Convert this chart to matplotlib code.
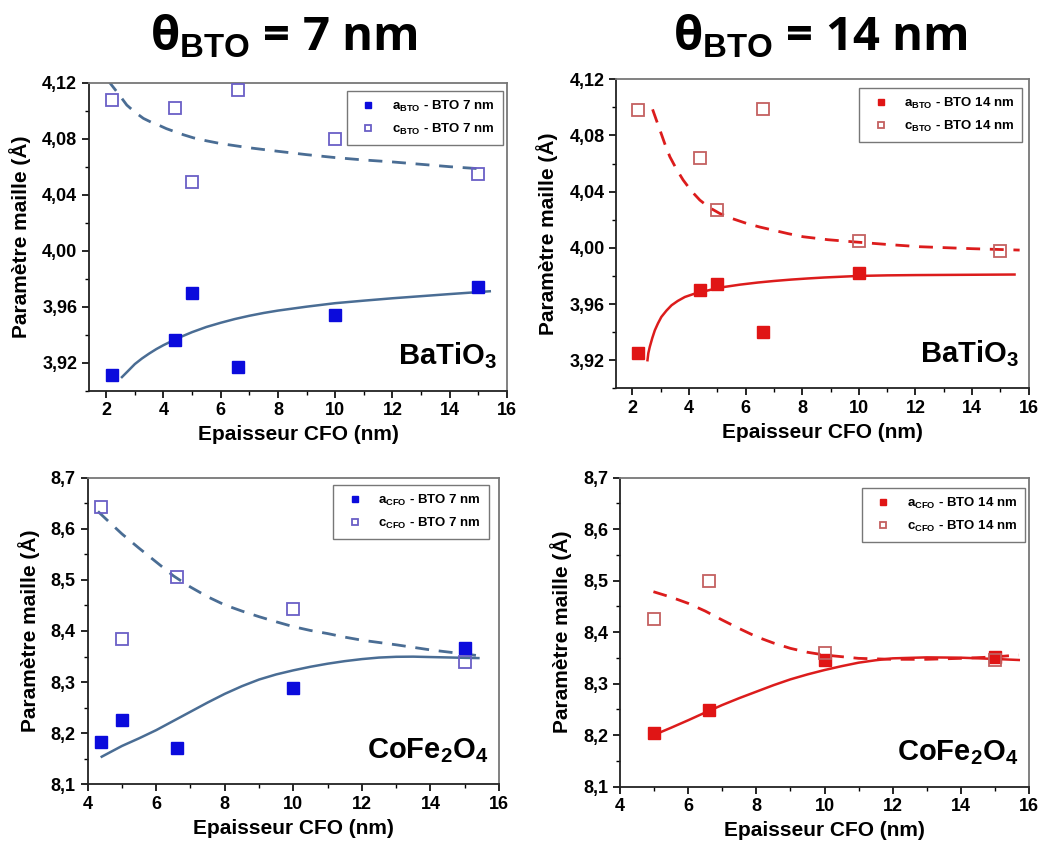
import numpy as np
import matplotlib
matplotlib.use("Agg")
import matplotlib.pyplot as plt
from matplotlib.ticker import MultipleLocator

plt.rcParams["font.family"] = ["Liberation Sans", "DejaVu Sans"]
plt.rcParams["font.weight"] = "bold"
plt.rcParams["mathtext.fontset"] = "custom"
plt.rcParams["mathtext.rm"] = "Liberation Sans:bold"
plt.rcParams["mathtext.it"] = "Liberation Sans:bold"
plt.rcParams["mathtext.bf"] = "Liberation Sans:bold"

# BaTiO3, BTO 7 nm
x_bto7 = [2.2, 4.4, 5.0, 6.6, 10.0, 15.0]
a_bto7 = [3.911, 3.936, 3.970, 3.917, 3.954, 3.974]
c_bto7 = [4.108, 4.102, 4.049, 4.115, 4.080, 4.055]
fit_a_bto7_x = [2.55, 2.75, 3.0, 3.25, 3.5, 3.75, 4.0, 4.5, 5.0, 5.5, 6.0, 6.5, 7.0,
                7.5, 8.0, 9.0, 10.0, 11.0, 12.0, 13.0, 14.0, 15.4]
fit_a_bto7_y = [3.9097, 3.9138, 3.919, 3.923, 3.9265, 3.9297, 3.9325, 3.9375, 3.9418,
                3.9455, 3.9485, 3.9512, 3.9535, 3.9555, 3.9572, 3.960, 3.9625, 3.9643,
                3.966, 3.9675, 3.969, 3.971]
fit_c_bto7_x = [2.05, 2.2, 2.43, 2.72, 3.0, 3.3, 3.6, 3.83, 4.1, 4.41, 4.7, 5.05, 5.5,
                6.0, 7.0, 8.0, 9.0, 10.0, 11.0, 12.0, 13.0, 14.0, 15.0]
fit_c_bto7_y = [4.122, 4.118, 4.112, 4.104, 4.099, 4.0945, 4.0915, 4.0897, 4.0872,
                4.0849, 4.0828, 4.0806, 4.0785, 4.0765, 4.0735, 4.071, 4.0686, 4.0665,
                4.0648, 4.0634, 4.0617, 4.060, 4.0586]

# BaTiO3, BTO 14 nm
x_bto14_a = [2.2, 4.4, 5.0, 6.6, 10.0]
a_bto14 = [3.925, 3.970, 3.974, 3.940, 3.982]
x_bto14_c = [2.2, 4.4, 5.0, 6.6, 10.0, 15.0]
c_bto14 = [4.098, 4.064, 4.027, 4.099, 4.005, 3.998]
fit_a_bto14_x = [2.53, 2.56, 2.61, 2.7, 2.79, 2.9, 3.02, 3.2, 3.38, 3.6, 3.85, 4.14,
                 4.44, 4.8, 5.26, 5.8, 6.43, 7.0, 7.61, 8.2, 8.79, 10.0, 11.0, 12.0, 15.5]
fit_a_bto14_y = [3.920, 3.925, 3.9294, 3.9358, 3.9413, 3.9462, 3.9508, 3.9553, 3.9591,
                 3.9622, 3.965, 3.967, 3.9686, 3.9703, 3.9722, 3.9738, 3.9753, 3.9764,
                 3.9774, 3.9782, 3.9789, 3.980, 3.9804, 3.9806, 3.981]
fit_c_bto14_x = [2.71, 2.84, 2.97, 3.14, 3.32, 3.55, 3.79, 4.08, 4.38, 4.7, 5.08, 5.5,
                 6.03, 6.5, 6.97, 7.5, 8.03, 8.9, 9.79, 11.0, 12.15, 14.0, 15.68]
fit_c_bto14_y = [4.0986, 4.0912, 4.0839, 4.0742, 4.0649, 4.0562, 4.0483, 4.0405, 4.034,
                 4.0289, 4.0245, 4.021, 4.0174, 4.0148, 4.0126, 4.0101, 4.0079, 4.0058,
                 4.0043, 4.0024, 4.0008, 3.9994, 3.9984]

# CoFe2O4, BTO 7 nm
x_cfo7 = [4.4, 5.0, 6.6, 10.0, 15.0]
a_cfo7 = [8.182, 8.226, 8.172, 8.288, 8.366]
c_cfo7 = [8.643, 8.384, 8.506, 8.444, 8.339]
fit_a_cfo7_x = [4.41, 5.0, 5.5, 6.0, 6.5, 7.0, 7.5, 8.0, 8.5, 9.0, 9.5, 10.0, 10.5,
                11.0, 11.5, 12.0, 12.5, 13.0, 13.5, 14.0, 15.0, 15.4]
fit_a_cfo7_y = [8.154, 8.175, 8.190, 8.206, 8.224, 8.242, 8.260, 8.277, 8.292, 8.305,
                8.315, 8.323, 8.330, 8.336, 8.341, 8.345, 8.348, 8.3495, 8.3498, 8.349,
                8.3475, 8.347]
fit_c_cfo7_x = [4.3, 4.6, 5.0, 5.5, 6.0, 6.5, 7.0, 7.5, 8.0, 8.5, 9.0, 9.5, 10.0, 10.5,
                11.0, 11.5, 12.0, 13.0, 14.0, 15.0, 15.6]
fit_c_cfo7_y = [8.634, 8.615, 8.590, 8.562, 8.535, 8.508, 8.486, 8.467, 8.451, 8.439,
                8.428, 8.418, 8.4085, 8.401, 8.395, 8.388, 8.382, 8.373, 8.363, 8.355,
                8.350]

# CoFe2O4, BTO 14 nm
x_cfo14 = [5.0, 6.6, 10.0, 15.0]
a_cfo14 = [8.205, 8.249, 8.346, 8.352]
c_cfo14 = [8.425, 8.499, 8.359, 8.346]
fit_a_cfo14_x = [4.98, 5.5, 6.0, 6.5, 7.0, 7.5, 8.0, 8.5, 9.0, 9.5, 10.0, 10.5, 11.0,
                 11.5, 12.0, 13.0, 14.0, 15.0, 15.7]
fit_a_cfo14_y = [8.200, 8.2145, 8.229, 8.244, 8.2586, 8.272, 8.2845, 8.297, 8.3084,
                 8.318, 8.3265, 8.334, 8.3408, 8.3455, 8.3492, 8.3511, 8.3505, 8.348,
                 8.346]
fit_c_cfo14_x = [4.98, 5.5, 6.0, 6.5, 7.0, 7.5, 8.0, 8.5, 9.0, 9.5, 10.0, 11.0, 12.0,
                 13.0, 14.0, 15.0, 15.7]
fit_c_cfo14_y = [8.4786, 8.468, 8.456, 8.441, 8.4236, 8.407, 8.3913, 8.379, 8.3686,
                 8.361, 8.3557, 8.3492, 8.3473, 8.3473, 8.3492, 8.352, 8.3557]

BLUE = "#0b0bdc"
BLUE_OPEN = "#6a5fc6"
BLUE_FIT = "#4a6d94"
RED = "#e01515"
RED_OPEN = "#c46060"
RED_FIT = "#dc1c1c"


def setup_axes(ax, xlim, ylim, xmaj, ymaj, yfmt):
    ax.set_xlim(*xlim)
    ax.set_ylim(*ylim)
    ax.xaxis.set_major_locator(MultipleLocator(xmaj))
    ax.xaxis.set_minor_locator(MultipleLocator(xmaj / 2))
    ax.yaxis.set_major_locator(MultipleLocator(ymaj))
    ax.yaxis.set_minor_locator(MultipleLocator(ymaj / 2))
    ax.xaxis.set_major_formatter(plt.FuncFormatter(lambda v, p: "%d" % round(v)))
    # comma as decimal separator
    ax.yaxis.set_major_formatter(plt.FuncFormatter(lambda v, p: (yfmt % v).replace(".", ",")))
    ax.tick_params(which="major", direction="out", length=5, width=1.2, labelsize=13)
    ax.tick_params(which="minor", direction="out", length=3, width=1.0)
    for lab in ax.get_xticklabels() + ax.get_yticklabels():
        lab.set_fontweight("bold")
    for s in ["left", "bottom"]:
        ax.spines[s].set_linewidth(1.3)
        ax.spines[s].set_color("#222222")
    for s in ["right", "top"]:
        ax.spines[s].set_linewidth(1.3)
        ax.spines[s].set_color("#777777")
    ax.set_xlabel("Epaisseur CFO (nm)", fontsize=15, fontweight="bold", labelpad=4)
    ax.set_ylabel("Paramètre maille (Å)", fontsize=15, fontweight="bold", labelpad=8)


def draw(ax, xa, ya, xc, yc, fa, fc, col, col_open, col_fit, lab_a, lab_c, anchor):
    ax.plot(fa[0], fa[1], color=col_fit, lw=1.8, zorder=2)
    ax.plot(fc[0], fc[1], color=col_fit, lw=2.0, ls=(0, (5, 3.5)), zorder=2)
    ax.plot(xa, ya, ls="none", marker="s", ms=8.5, color=col, mec=col,
            label=lab_a, zorder=3)
    ax.plot(xc, yc, ls="none", marker="s", ms=8.5, mfc="none", mec=col_open,
            mew=1.3, label=lab_c, zorder=3)
    leg = ax.legend(loc="upper right", markerscale=0.5, fontsize=9.5,
                    frameon=True, fancybox=False, borderpad=0.6,
                    handletextpad=0.8, labelspacing=0.6, borderaxespad=0,
                    bbox_to_anchor=anchor)
    leg.get_frame().set_edgecolor("#555555")
    leg.get_frame().set_linewidth(1.0)
    for t in leg.get_texts():
        t.set_fontweight("bold")


fig = plt.figure(figsize=(10.5, 8.5), dpi=100)

ax1 = fig.add_axes([0.0848, 0.5404, 0.398, 0.3623])
ax2 = fig.add_axes([0.587, 0.5432, 0.3927, 0.3635])
ax3 = fig.add_axes([0.0835, 0.0773, 0.3917, 0.3607])
ax4 = fig.add_axes([0.5905, 0.0745, 0.3895, 0.3635])

setup_axes(ax1, (1.4, 16), (3.90, 4.12), 2, 0.04, "%.2f")
setup_axes(ax2, (1.43, 16), (3.90, 4.12), 2, 0.04, "%.2f")
setup_axes(ax3, (4, 16), (8.1, 8.7), 2, 0.1, "%.1f")
setup_axes(ax4, (4, 16), (8.1, 8.7), 2, 0.1, "%.1f")

draw(ax1, x_bto7, a_bto7, x_bto7, c_bto7,
     (fit_a_bto7_x, fit_a_bto7_y), (fit_c_bto7_x, fit_c_bto7_y),
     BLUE, BLUE_OPEN, BLUE_FIT,
     r"a$_{BTO}$ - BTO 7 nm", r"c$_{BTO}$ - BTO 7 nm", (0.99, 0.974))
draw(ax2, x_bto14_a, a_bto14, x_bto14_c, c_bto14,
     (fit_a_bto14_x, fit_a_bto14_y), (fit_c_bto14_x, fit_c_bto14_y),
     RED, RED_OPEN, RED_FIT,
     r"a$_{BTO}$ - BTO 14 nm", r"c$_{BTO}$ - BTO 14 nm", (0.985, 0.972))
draw(ax3, x_cfo7, a_cfo7, x_cfo7, c_cfo7,
     (fit_a_cfo7_x, fit_a_cfo7_y), (fit_c_cfo7_x, fit_c_cfo7_y),
     BLUE, BLUE_OPEN, BLUE_FIT,
     r"a$_{CFO}$ - BTO 7 nm", r"c$_{CFO}$ - BTO 7 nm", (0.976, 0.976))
draw(ax4, x_cfo14, a_cfo14, x_cfo14, c_cfo14,
     (fit_a_cfo14_x, fit_a_cfo14_y), (fit_c_cfo14_x, fit_c_cfo14_y),
     RED, RED_OPEN, RED_FIT,
     r"a$_{CFO}$ - BTO 14 nm", r"c$_{CFO}$ - BTO 14 nm", (0.99, 0.968))

for ax in [ax1, ax2]:
    ax.text(0.975, 0.085, r"BaTiO$_3$", transform=ax.transAxes, ha="right",
            va="baseline", fontsize=21, fontweight="bold")
for ax in [ax3, ax4]:
    ax.text(0.975, 0.085, r"CoFe$_2$O$_4$", transform=ax.transAxes, ha="right",
            va="baseline", fontsize=21, fontweight="bold")

fig.text(0.27, 0.956, r"θ$_{BTO}$ = 7 nm", ha="center", va="center",
         fontsize=34, fontweight="bold", family=["Open Sans", "DejaVu Sans"])
fig.text(0.781, 0.956, r"θ$_{BTO}$ = 14 nm", ha="center", va="center",
         fontsize=34, fontweight="bold", family=["Open Sans", "DejaVu Sans"])

fig.savefig("out.png", dpi=100)
